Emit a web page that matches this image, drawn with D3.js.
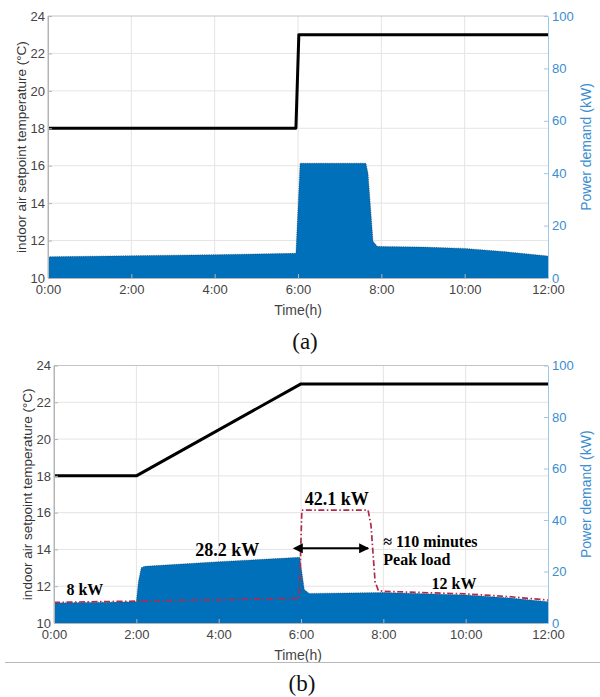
<!DOCTYPE html>
<html>
<head>
<meta charset="utf-8">
<script src="https://cdn.jsdelivr.net/npm/d3@7"></script>
<style>
  html, body { margin: 0; padding: 0; background: #fff; }
  svg { display: block; }
</style>
</head>
<body>
<svg id="chart" width="600" height="697"></svg>
<script>
// ---------- DATA ----------
const timeTicks = [0, 2, 4, 6, 8, 10, 12];
const timeTickLabels = ["0:00", "2:00", "4:00", "6:00", "8:00", "10:00", "12:00"];
const tempTicks = [10, 12, 14, 16, 18, 20, 22, 24];
const powerTicks = [0, 20, 40, 60, 80, 100];

// Panel (a)
const tempA_t = [0, 5.95, 6.02, 12];
const tempA_v = [18, 18, 23, 23];
const powA_t = [0, 2, 4, 5.95, 6.05, 7.63, 7.68, 7.8, 7.9, 8, 9, 10, 11, 12];
const powA_v = [8.1, 8.5, 8.9, 9.4, 43.8, 43.8, 40, 14, 12.1, 12.0, 11.8, 11.3, 10.0, 8.4];

// Panel (b)
const tempB_t = [0, 2, 6, 12];
const tempB_v = [18, 18, 23, 23];
const powB_t = [0, 2, 2.05, 2.12, 2.2, 4, 5.97, 6.08, 6.2, 8, 10, 11, 12];
const powB_v = [7.8, 8.3, 16, 21.5, 22.0, 23.8, 25.5, 13, 11.5, 11.8, 10.9, 9.8, 8.3];
const peakB_t = [0, 2, 4, 5.96, 6.02, 7.63, 7.7, 7.8, 7.88, 8, 10, 11, 12];
const peakB_v = [8.0, 8.5, 9.0, 9.6, 43.8, 43.8, 38, 16, 12.6, 12.3, 11.3, 10.3, 8.9];

// Annotations (b): [text, hours, kW, anchor, size]
const annTexts = ["8 kW", "28.2 kW", "42.1 kW", "\u2248 110 minutes", "Peak load", "12 kW"];
const annX = [0.75, 4.21, 6.87, 8.0, 8.0, 9.17];
const annY = [10.9, 26.0, 45.8, 29.6, 22.5, 13.1];
const annAnchor = ["middle", "middle", "middle", "start", "start", "start"];
const annSize = [16, 18, 18, 16, 16, 16];
const arrowT = [6.02, 7.63];
const arrowKW = 29.0;

// ---------- STYLE ----------
const BLUE = "#0070BA";
const AXBLUE = "#3A8DD0";
const RED = "#B02A4C";
const SANS = "'Liberation Sans', Arial, Helvetica, sans-serif";
const SERIF = "'Liberation Serif', 'Times New Roman', serif";

const svg = d3.select("#chart");
const defs = svg.append("defs");
["start", "end"].forEach(k => {
  defs.append("marker")
    .attr("id", "arr-" + k)
    .attr("viewBox", "0 0 10 10")
    .attr("refX", k === "end" ? 9 : 1).attr("refY", 5)
    .attr("markerWidth", 5).attr("markerHeight", 5)
    .attr("markerUnits", "strokeWidth")
    .attr("orient", "auto-start-reverse")
    .append("path").attr("d", "M0,0 L10,5 L0,10 z").attr("fill", "#000");
});

function panel(cfg) {
  const x = d3.scaleLinear().domain([0, 12]).range([cfg.left, cfg.right]);
  const yT = d3.scaleLinear().domain([10, 24]).range([cfg.bottom, cfg.top]);
  const yP = d3.scaleLinear().domain([0, 100]).range([cfg.bottom, cfg.top]);
  const g = svg.append("g");

  // grid
  g.append("g").selectAll("line").data(timeTicks.slice(1, -1)).join("line")
    .attr("x1", d => x(d)).attr("x2", d => x(d))
    .attr("y1", cfg.top).attr("y2", cfg.bottom)
    .attr("stroke", "#e4e4e4").attr("stroke-width", 1);
  g.append("g").selectAll("line").data(tempTicks.slice(1, -1)).join("line")
    .attr("x1", cfg.left).attr("x2", cfg.right)
    .attr("y1", d => yT(d)).attr("y2", d => yT(d))
    .attr("stroke", "#e4e4e4").attr("stroke-width", 1);

  // power area
  const pts = cfg.pt.map((t, i) => [t, cfg.pv[i]]);
  g.append("path").datum(pts)
    .attr("d", d3.area().x(d => x(d[0])).y0(yP(0)).y1(d => yP(d[1])))
    .attr("fill", BLUE);
  g.append("path").datum(pts)
    .attr("d", d3.line().x(d => x(d[0])).y(d => yP(d[1])))
    .attr("fill", "none").attr("stroke", "#1b2740").attr("stroke-width", 0.8)
    .attr("stroke-dasharray", "1,1.2").attr("opacity", 0.7);

  // peak dashed (b)
  if (cfg.peakT) {
    g.append("path").datum(cfg.peakT.map((t, i) => [t, cfg.peakV[i]]))
      .attr("d", d3.line().x(d => x(d[0])).y(d => yP(d[1])))
      .attr("fill", "none").attr("stroke", RED).attr("stroke-width", 1.7)
      .attr("stroke-dasharray", "6,2.5,1.5,2.5");
  }

  // temperature line
  g.append("path").datum(cfg.tt.map((t, i) => [t, cfg.tv[i]]))
    .attr("d", d3.line().x(d => x(d[0])).y(d => yT(d[1])))
    .attr("fill", "none").attr("stroke", "#000").attr("stroke-width", 3)
    .attr("stroke-linejoin", "round");

  // box lines
  g.append("line").attr("x1", cfg.left).attr("x2", cfg.right).attr("y1", cfg.top).attr("y2", cfg.top)
    .attr("stroke", "#c4c4c4");
  g.append("line").attr("x1", cfg.left).attr("x2", cfg.left).attr("y1", cfg.top).attr("y2", cfg.bottom)
    .attr("stroke", "#b4b4b4");

  // axes
  const ax = g.append("g").attr("transform", `translate(0,${cfg.bottom})`)
    .call(d3.axisBottom(x).tickValues(timeTicks).tickFormat((d, i) => timeTickLabels[i]).tickSizeInner(-4).tickSizeOuter(0).tickPadding(7));
  ax.select(".domain").attr("stroke", "#b4b4b4");
  ax.selectAll(".tick line").attr("stroke", "#b4b4b4");
  ax.selectAll("text").attr("fill", "#444").style("font", `13px ${SANS}`);

  const al = g.append("g").attr("transform", `translate(${cfg.left},0)`)
    .call(d3.axisLeft(yT).tickValues(tempTicks).tickSizeInner(-4).tickSizeOuter(0).tickPadding(3));
  al.select(".domain").attr("stroke", "#b4b4b4");
  al.selectAll(".tick line").attr("stroke", "#b4b4b4");
  al.selectAll("text").attr("fill", "#444").style("font", `13px ${SANS}`);

  const ar = g.append("g").attr("transform", `translate(${cfg.right},0)`)
    .call(d3.axisRight(yP).tickValues(powerTicks).tickSizeInner(-4).tickSizeOuter(0).tickPadding(4));
  ar.select(".domain").attr("stroke", "#9cc7ea");
  ar.selectAll(".tick line").attr("stroke", "#9cc7ea");
  ar.selectAll("text").attr("fill", AXBLUE).style("font", `13px ${SANS}`);

  // axis titles
  const midY = (cfg.top + cfg.bottom) / 2;
  g.append("text").attr("transform", `translate(${cfg.ylabX},${midY}) rotate(-90)`)
    .attr("text-anchor", "middle").attr("dominant-baseline", "central")
    .attr("fill", "#333").style("font", `13.5px ${SANS}`)
    .text("indoor air setpoint temperature (\u00B0C)");
  g.append("text").attr("transform", `translate(586,${midY}) rotate(-90)`)
    .attr("text-anchor", "middle").attr("dominant-baseline", "central")
    .attr("fill", AXBLUE).style("font", `14px ${SANS}`)
    .text("Power demand (kW)");
  g.append("text").attr("x", 298).attr("y", cfg.bottom + 32)
    .attr("text-anchor", "middle").attr("dominant-baseline", "central")
    .attr("fill", "#444").style("font", `14px ${SANS}`).text("Time(h)");
  g.append("text").attr("x", cfg.capX).attr("y", cfg.capY)
    .attr("text-anchor", "middle").attr("dominant-baseline", "central")
    .attr("fill", "#111").style("font", `23px ${SERIF}`).text(cfg.caption);

  return { g, x, yT, yP };
}

panel({ left: 48, right: 548, top: 16, bottom: 278, tt: tempA_t, tv: tempA_v,
  pt: powA_t, pv: powA_v, ylabX: 21, caption: "(a)", capX: 305, capY: 341 });

const pb = panel({ left: 54, right: 548, top: 365.5, bottom: 623, tt: tempB_t, tv: tempB_v,
  pt: powB_t, pv: powB_v, peakT: peakB_t, peakV: peakB_v, ylabX: 27, caption: "(b)", capX: 302, capY: 683 });

// annotations
pb.g.append("g").selectAll("text").data(annTexts).join("text")
  .attr("x", (d, i) => pb.x(annX[i])).attr("y", (d, i) => pb.yP(annY[i]))
  .attr("text-anchor", (d, i) => annAnchor[i])
  .attr("fill", "#000").style("font-family", SERIF).style("font-weight", "bold")
  .style("font-size", (d, i) => annSize[i] + "px")
  .text(d => d);

pb.g.append("line")
  .attr("x1", pb.x(arrowT[0])).attr("x2", pb.x(arrowT[1]))
  .attr("y1", pb.yP(arrowKW)).attr("y2", pb.yP(arrowKW))
  .attr("stroke", "#000").attr("stroke-width", 2)
  .attr("marker-start", "url(#arr-start)").attr("marker-end", "url(#arr-end)");

// separator line
svg.append("line").attr("x1", 5).attr("x2", 600).attr("y1", 662.5).attr("y2", 662.5)
  .attr("stroke", "#b8b8b8").attr("stroke-width", 1);
</script>
</body>
</html>
